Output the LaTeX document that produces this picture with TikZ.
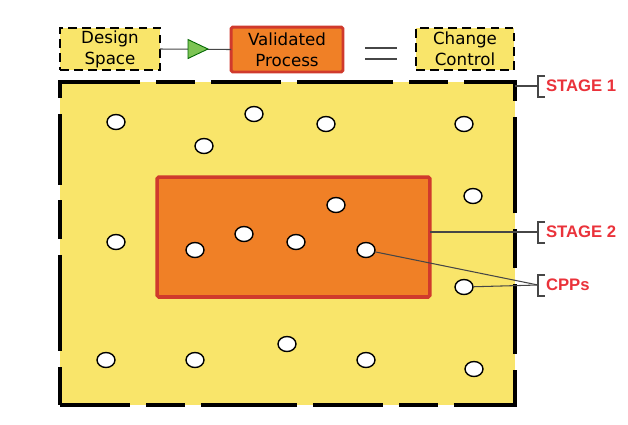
\documentclass[tikz,border=0pt]{standalone}
\usepackage{fontspec}
\setmainfont{DejaVu Sans}
\newfontfamily\stagefont{Liberation Sans}
\usetikzlibrary{shapes.geometric, positioning, calc}

\definecolor{spaceyellow}{RGB}{249,229,106}
\definecolor{procorange}{RGB}{240,128,38}
\definecolor{procred}{RGB}{208,58,44}
\definecolor{flowgreen}{RGB}{124,196,84}
\definecolor{stagered}{RGB}{234,50,58}
\definecolor{linkgray}{RGB}{70,70,70}

\begin{document}
\begin{tikzpicture}[
  x=0.02cm, y=-0.02cm,
  every node/.style={inner sep=0pt, outer sep=0pt, font=\fontsize{9.5}{12}\selectfont, align=center},
  dashbox/.style={draw, fill=spaceyellow, line width=1.1pt, dash pattern=on 5pt off 3pt, minimum height=0.84cm},
  procbox/.style={draw=procred, fill=procorange, line width=1.7pt, rounded corners=1pt},
  cpp/.style={ellipse, draw, fill=white, line width=0.8pt, minimum width=0.36cm, minimum height=0.3cm},
  stagelabel/.style={anchor=west, text=stagered, font=\stagefont\bfseries\fontsize{9.5}{11}\selectfont},
  link/.style={draw=linkgray, line width=0.6pt},
  bracketline/.style={draw=linkgray, line width=0.8pt}
]
\useasboundingbox (0,0) rectangle (628,424);

\node [dashbox, minimum width=2cm] (ds) at (110,49) {Design\\Space};
\node [procbox, minimum width=2.24cm, minimum height=0.9cm] (vp) at (287,49.5) {Validated\\Process};
\node [dashbox, minimum width=1.96cm] (cc) at (465,49) {Change\\Control};
\draw [link] (ds.east) -- (vp.west);
\node [isosceles triangle, shape border rotate=0, isosceles triangle stretches, draw=green!40!black, fill=flowgreen, line width=0.5pt, minimum width=0.38cm, minimum height=0.4cm] (tri) at (194,49) {};

\coordinate (eqa) at (365,48);
\coordinate (eqb) at (397,48);
\coordinate (eqc) at (365,59);
\coordinate (eqd) at (397,59);
\draw [link, line width=0.8pt] (eqa) -- (eqb) (eqc) -- (eqd);

\node [draw, fill=spaceyellow, line width=2.3pt, dash pattern=on 40pt off 9pt on 22pt off 9pt on 55pt off 9pt, minimum width=9.1cm, minimum height=6.46cm] (big) at (287.5,243.5) {};
\node [procbox, line width=2pt, minimum width=5.46cm, minimum height=2.4cm] (op) at (293.5,237) {};

\foreach \n/\x/\y in {c1/116/122, c2/254/114, c3/326/124, c4/464/124, c5/204/146, c6/473/196,
                      c7/336/205, c8/116/242, c9/244/234, c10/296/242, c11/195/250, c12/366/250,
                      c13/464/287, c14/106/360, c15/195/360, c16/287/344, c17/366/360, c18/474/369}
  \node [cpp] (\n) at (\x,\y) {};

\node [stagelabel] (s1) at (546,86) {STAGE 1};
\node [stagelabel] (s2) at (546,232) {STAGE 2};
\node [stagelabel] (s3) at (546,285) {CPPs};

\foreach \s in {s1, s2, s3} {
  \coordinate (\s b) at ([shift={(-8,0)}]\s.west);
  \draw [bracketline] ([shift={(7,-10)}]\s b) -- ([shift={(0,-10)}]\s b) -- ([shift={(0,11)}]\s b) -- ([shift={(7,11)}]\s b);
}

\draw [link] (big.east |- s1b) -- (s1b);
\draw [link] (op.east |- s2b) -- (s2b);
\draw [link] (c12) -- (s3b);
\draw [link] (c13) -- (s3b);

\end{tikzpicture}
\end{document}
